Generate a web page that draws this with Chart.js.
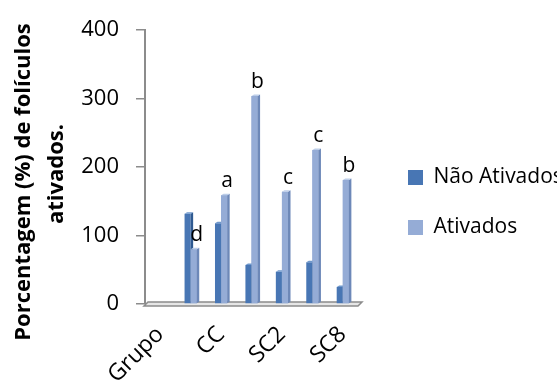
<!DOCTYPE html>
<html>
<head>
<meta charset="utf-8">
<script src="https://cdn.jsdelivr.net/npm/chart.js@4"></script>
<style>
  html, body { margin: 0; padding: 0; background: #fff; overflow: hidden; }
  #wrap { width: 557px; height: 381px; }
</style>
</head>
<body>
<div id="wrap"><canvas id="c" width="557" height="381"></canvas></div>
<script>
const categories = ["Grupo", "", "CC", "", "SC2", "", "SC8"];
const naoAtivados = [null, 132, 118, 57, 47, 61, 25];
const ativados = [null, 80, 159, 304, 164, 225, 181];
const letters = ["", "d", "a", "b", "c", "c", "b"];
const yTicks = [0, 100, 200, 300, 400];
const seriesNames = ["Não Ativados", "Ativados"];
const yTitleLines = ["Porcentagem (%) de folículos", "ativados."];

const FONT = "'Open Sans', 'DejaVu Sans', sans-serif";

const floorPlugin = {
  id: 'floor',
  beforeDatasetsDraw(chart) {
    const {ctx, chartArea: a} = chart;
    ctx.save();
    ctx.beginPath();
    ctx.moveTo(a.left - 1, a.bottom + 2);
    ctx.lineTo(a.left + 3, a.bottom - 2);
    ctx.lineTo(a.right + 4, a.bottom - 2);
    ctx.lineTo(a.right, a.bottom + 2);
    ctx.closePath();
    ctx.fillStyle = '#e6e6e6';
    ctx.fill();
    ctx.strokeStyle = '#8c8c8c';
    ctx.lineWidth = 1.5;
    ctx.stroke();
    ctx.restore();
  }
};

function drawFaces(ctx, el, ds) {
  const p = el.getProps(['x', 'y', 'base', 'width'], true);
  if (p.y == null || isNaN(p.y) || p.base - p.y < 0.5) return;
  const l = p.x - p.width / 2, r = p.x + p.width / 2, d = 2.5, dy = 1.5;
  ctx.fillStyle = ds.sideColor;
  ctx.beginPath();
  ctx.moveTo(r, p.y); ctx.lineTo(r + d, p.y - dy); ctx.lineTo(r + d, p.base - dy); ctx.lineTo(r, p.base);
  ctx.closePath(); ctx.fill();
  ctx.fillStyle = ds.topColor;
  ctx.beginPath();
  ctx.moveTo(l, p.y); ctx.lineTo(l + d, p.y - dy); ctx.lineTo(r + d, p.y - dy); ctx.lineTo(r, p.y);
  ctx.closePath(); ctx.fill();
}

// draws the 3D side/top faces, then redraws the right-hand (Ativados) bar over the left one
const bar3d = {
  id: 'bar3d',
  afterDatasetsDraw(chart) {
    const ctx = chart.ctx;
    const ds0 = chart.data.datasets[0], ds1 = chart.data.datasets[1];
    const m0 = chart.getDatasetMeta(0), m1 = chart.getDatasetMeta(1);
    ctx.save();
    m0.data.forEach(el => drawFaces(ctx, el, ds0));
    m1.data.forEach(el => {
      const p = el.getProps(['y'], true);
      if (p.y == null || isNaN(p.y)) return;
      el.draw(ctx, chart.chartArea);
      drawFaces(ctx, el, ds1);
    });
    ctx.restore();
  }
};

const letterPlugin = {
  id: 'letters',
  afterDatasetsDraw(chart) {
    const ctx = chart.ctx;
    const meta = chart.getDatasetMeta(1);
    ctx.save();
    ctx.font = "21px " + FONT;
    ctx.fillStyle = '#000';
    ctx.textAlign = 'center';
    ctx.textBaseline = 'alphabetic';
    meta.data.forEach((el, i) => {
      if (!letters[i]) return;
      ctx.fillText(letters[i], el.x + 3, el.y - 8);
    });
    ctx.restore();
  }
};

const yTitlePlugin = {
  id: 'yTitle',
  afterDraw(chart) {
    const ctx = chart.ctx;
    ctx.save();
    ctx.font = "bold 22px " + FONT;
    ctx.fillStyle = '#000';
    ctx.textAlign = 'center';
    ctx.textBaseline = 'middle';
    const pos = [[24, 182], [57, 174]];
    yTitleLines.forEach((t, i) => {
      ctx.save();
      ctx.translate(pos[i][0], pos[i][1]);
      ctx.rotate(-Math.PI / 2);
      ctx.fillText(t, 0, 0);
      ctx.restore();
    });
    ctx.restore();
  }
};

new Chart(document.getElementById('c'), {
  type: 'bar',
  data: {
    labels: categories,
    datasets: [
      { label: seriesNames[0], data: naoAtivados, backgroundColor: '#4876b4', sideColor: '#2f5a91', topColor: '#6f98cc' },
      { label: seriesNames[1], data: ativados, backgroundColor: '#95acd6', sideColor: '#6d88b8', topColor: '#bccde8' }
    ]
  },
  options: {
    responsive: false,
    animation: false,
    devicePixelRatio: 1,
    layout: { padding: { top: 24, left: 0, right: 0, bottom: 0 } },
    datasets: { bar: { categoryPercentage: 0.4, barPercentage: 1, borderWidth: 0 } },
    scales: {
      x: {
        grid: { display: false },
        border: { display: false },
        ticks: {
          autoSkip: false, maxRotation: 45, minRotation: 45,
          color: '#000', font: { family: FONT, size: 23 }, padding: 9
        },
        afterFit(s) { s.height = 77; }
      },
      y: {
        min: 0, max: 400,
        afterBuildTicks(s) { s.ticks = yTicks.map(v => ({ value: v })); },
        grid: { drawOnChartArea: false, drawTicks: true, tickLength: 9, color: '#8c8c8c', lineWidth: 1.5 },
        border: { display: true, color: '#8c8c8c', width: 2 },
        ticks: { color: '#000', font: { family: FONT, size: 22 }, padding: 17 },
        afterFit(s) { s.width = 145; }
      },
      y2: {
        position: 'right', min: 0, max: 1, display: true,
        grid: { display: false }, border: { display: false },
        ticks: { display: false },
        afterFit(s) { s.width = 21; }
      }
    },
    plugins: {
      legend: {
        position: 'right',
        maxWidth: 178,
        labels: {
          boxWidth: 15, boxHeight: 15, padding: 29, color: '#000',
          font: { family: FONT, size: 21 }
        }
      },
      tooltip: { enabled: false },
      title: { display: false }
    }
  },
  plugins: [floorPlugin, bar3d, letterPlugin, yTitlePlugin]
});
</script>
</body>
</html>
